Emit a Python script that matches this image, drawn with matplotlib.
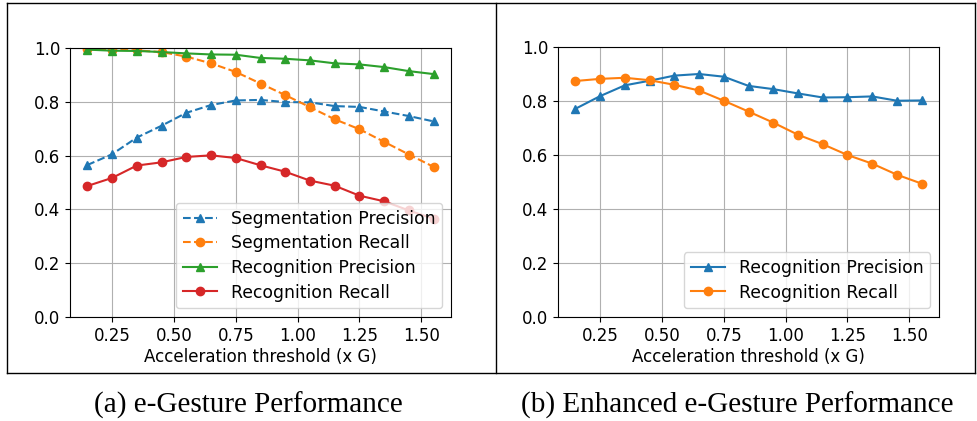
import matplotlib
matplotlib.use("Agg")
import matplotlib.pyplot as plt
from matplotlib.lines import Line2D

# Acceleration thresholds (x G)
thresholds = [0.15, 0.25, 0.35, 0.45, 0.55, 0.65, 0.75, 0.85, 0.95, 1.05, 1.15, 1.25, 1.35, 1.45, 1.55]

# (a) e-Gesture
seg_precision = [0.565, 0.605, 0.667, 0.711, 0.759, 0.788, 0.805, 0.807, 0.799, 0.798, 0.784, 0.781, 0.764, 0.747, 0.727]
seg_recall = [0.995, 0.994, 0.991, 0.985, 0.968, 0.943, 0.911, 0.868, 0.825, 0.780, 0.735, 0.698, 0.651, 0.604, 0.558]
rec_precision_a = [0.994, 0.990, 0.989, 0.985, 0.980, 0.976, 0.975, 0.963, 0.960, 0.954, 0.943, 0.939, 0.929, 0.914, 0.903]
rec_recall_a = [0.487, 0.517, 0.563, 0.575, 0.595, 0.601, 0.591, 0.564, 0.540, 0.507, 0.488, 0.451, 0.430, 0.396, 0.365]

# (b) Enhanced e-Gesture
rec_precision_b = [0.771, 0.818, 0.858, 0.875, 0.894, 0.900, 0.890, 0.856, 0.844, 0.828, 0.813, 0.814, 0.817, 0.801, 0.802]
rec_recall_b = [0.874, 0.882, 0.886, 0.877, 0.860, 0.839, 0.801, 0.761, 0.720, 0.675, 0.640, 0.600, 0.568, 0.527, 0.494]

xticks = [0.25, 0.50, 0.75, 1.00, 1.25, 1.50]
yticks = [0.0, 0.2, 0.4, 0.6, 0.8, 1.0]
xlabel = "Acceleration threshold (x G)"
captions = ["(a) e-Gesture Performance", "(b) Enhanced e-Gesture Performance"]

W, H = 977, 421
fig = plt.figure(figsize=(W / 100, H / 100), dpi=100)
plt.rcParams["font.family"] = ["DejaVu Sans"]
FS = 12

C = plt.rcParams["axes.prop_cycle"].by_key()["color"]

ax_a = fig.add_axes([70 / W, (H - 317) / H, 381 / W, 269 / H])
ax_b = fig.add_axes([558 / W, (H - 317) / H, 381 / W, 270 / H])

ax_a.plot(thresholds, seg_precision, "--", marker="^", color=C[0], label="Segmentation Precision")
ax_a.plot(thresholds, seg_recall, "--", marker="o", color=C[1], label="Segmentation Recall")
ax_a.plot(thresholds, rec_precision_a, "-", marker="^", color=C[2], label="Recognition Precision")
ax_a.plot(thresholds, rec_recall_a, "-", marker="o", color=C[3], label="Recognition Recall")

ax_b.plot(thresholds, rec_precision_b, "-", marker="^", color=C[0], label="Recognition Precision")
ax_b.plot(thresholds, rec_recall_b, "-", marker="o", color=C[1], label="Recognition Recall")

for ax in (ax_a, ax_b):
    ax.set_ylim(0, 1.0)
    ax.set_xticks(xticks)
    ax.set_xticklabels([f"{t:.2f}" for t in xticks])
    ax.set_yticks(yticks)
    ax.set_yticklabels([f"{t:.1f}" for t in yticks])
    ax.tick_params(labelsize=FS)
    ax.grid(True)
    ax.set_xlabel(xlabel, fontsize=FS, labelpad=2)
    ax.legend(loc="lower right", fontsize=12.4, labelspacing=0.38)

# Bordered panels with captions
frame_kw = dict(color="black", linewidth=1.0, transform=fig.transFigure)
def px(x, y):
    return x / W, (H - y) / H
left, right, top, bottom, mid = 7, 975, 3, 373, 496
for (x0, y0), (x1, y1) in [((left, top), (right, top)), ((left, bottom), (right, bottom)),
                           ((left, top), (left, bottom)), ((right, top), (right, bottom)),
                           ((mid, top), (mid, bottom))]:
    a0, b0 = px(x0, y0)
    a1, b1 = px(x1, y1)
    fig.add_artist(Line2D([a0, a1], [b0, b1], **frame_kw))

for cx, text in zip([248, 737.5], captions):
    fx, fy = px(cx, 405)
    fig.text(fx, fy, text, ha="center", va="center", fontsize=21,
             family=["Liberation Serif", "DejaVu Serif"])

fig.savefig("out.png", dpi=100)
